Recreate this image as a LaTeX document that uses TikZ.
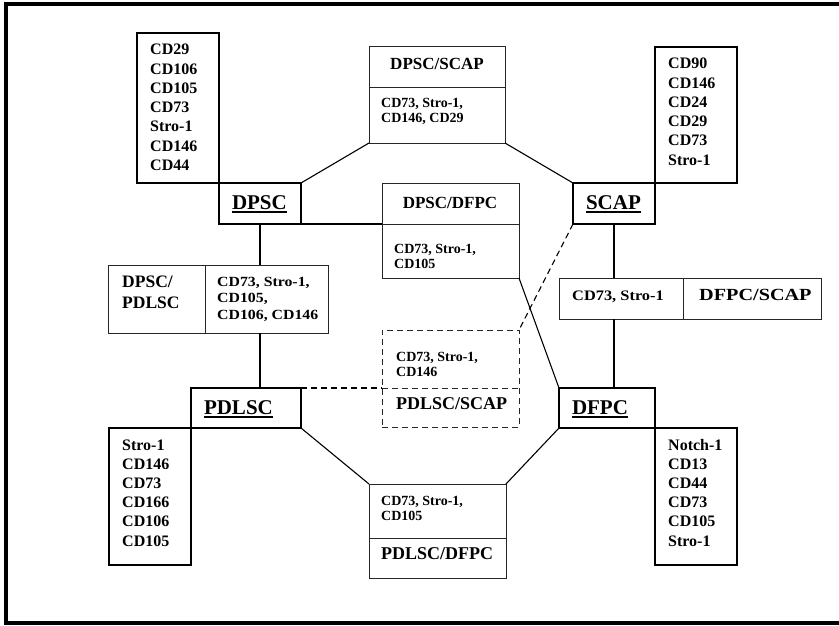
\documentclass[tikz,border=0pt]{standalone}
\usepackage{fontspec}
\setmainfont{Liberation Serif}
\begin{document}
\begin{tikzpicture}[x=1pt,y=-1pt,
  mainbox/.style={draw=black, line width=1.8pt, inner sep=0pt, outer sep=0pt, anchor=north west},
  pairbox/.style={draw=black!85, line width=1pt, inner sep=0pt, outer sep=0pt, anchor=north west},
  dashbox/.style={pairbox, dash pattern=on 6pt off 4pt},
  link/.style={line width=1.1pt},
  dlink/.style={line width=1.1pt, dash pattern=on 6pt off 4pt},
  divline/.style={line width=1pt, draw=black!85},
  lab/.style={inner sep=0pt, outer sep=0pt, anchor=base west, font=\bfseries\fontsize{21}{25}\selectfont},
  uline/.style={line width=2pt},
  lst/.style={inner sep=0pt, anchor=base west, font=\bfseries\fontsize{16}{19}\selectfont},
  ttl/.style={inner sep=0pt, anchor=base, font=\bfseries\fontsize{17}{20}\selectfont},
  ttlw/.style={inner sep=0pt, anchor=base west, font=\bfseries\fontsize{17.5}{20}\selectfont},
  itm/.style={inner sep=0pt, anchor=base west, font=\bfseries\fontsize{14}{15}\selectfont},
]
\useasboundingbox (0,0) rectangle (839,626);
% frame
\draw[line width=4pt] (839,4) -- (6,4) -- (6,623) -- (839,623);

% main nodes
\node[mainbox, minimum width=82pt, minimum height=150pt] (dpscL) at (137,33) {};
\node[mainbox, minimum width=82pt, minimum height=41pt] (dpsc) at (219,183) {};
\node[mainbox, minimum width=82pt, minimum height=136pt] (scapL) at (655,47) {};
\node[mainbox, minimum width=82pt, minimum height=41pt] (scap) at (573,183) {};
\node[mainbox, minimum width=110pt, minimum height=40pt] (pdlsc) at (191,388) {};
\node[mainbox, minimum width=82pt, minimum height=137pt] (pdlscL) at (109,428) {};
\node[mainbox, minimum width=96pt, minimum height=40pt] (dfpc) at (559,388) {};
\node[mainbox, minimum width=82pt, minimum height=137pt] (dfpcL) at (655,428) {};

% pair boxes
\node[pairbox, minimum width=136pt, minimum height=96pt] (ds) at (369,47) {};
\node[pairbox, minimum width=137pt, minimum height=95pt] (dd) at (382,183) {};
\node[pairbox, minimum width=220pt, minimum height=68pt] (dp) at (108,265) {};
\node[pairbox, minimum width=262pt, minimum height=41pt] (fs) at (559,278) {};
\node[dashbox, minimum width=137pt, minimum height=97pt] (ps) at (382,330) {};
\node[pairbox, minimum width=137pt, minimum height=94pt] (pf) at (369,484) {};

% dividers
\coordinate (dsdiv) at (0,88);
\coordinate (dddiv) at (0,224);
\coordinate (dpdiv) at (205,0);
\coordinate (fsdiv) at (683,0);
\coordinate (psdiv) at (0,388);
\coordinate (pfdiv) at (0,538);
\draw[divline] (ds.west |- dsdiv) -- (ds.east |- dsdiv);
\draw[divline] (dd.west |- dddiv) -- (dd.east |- dddiv);
\draw[divline] (dpdiv |- dp.north) -- (dpdiv |- dp.south);
\draw[divline] (fsdiv |- fs.north) -- (fsdiv |- fs.south);
\draw[divline, dash pattern=on 6pt off 4pt] (ps.west |- psdiv) -- (ps.east |- psdiv);
\draw[divline] (pf.west |- pfdiv) -- (pf.east |- pfdiv);

% connectors
\draw[link] (dpsc.north east) -- (ds.south west);
\draw[link] (dpsc.south east) -- (dd.west |- dpsc.south east);
\draw[link] (dpsc.south) -- (dpsc.south |- dp.north);
\draw[link] (dpsc.south |- dp.south) -- (dpsc.south |- pdlsc.north);
\draw[link] (ds.south east) -- (scap.north west);
\draw[dlink] (scap.south west) -- (ps.north east);
\draw[link] (scap.south) -- (scap.south |- fs.north);
\draw[link] (scap.south |- fs.south) -- (scap.south |- dfpc.north);
\draw[link] (dd.south east) -- (dfpc.north west);
\draw[dlink] (pdlsc.north east) -- (ps.west |- pdlsc.north east);
\draw[link] (pdlsc.south east) -- (pf.north west);
\draw[link] (dfpc.south west) -- (pf.north east);

% main labels
\node[lab] (tDPSC) at (232,209) {DPSC};
\node[lab] (tSCAP) at (586,209) {SCAP};
\node[lab] (tPDLSC) at (204,414) {PDLSC};
\node[lab] (tDFPC) at (572,414) {DFPC};
\foreach \n in {tDPSC,tSCAP,tPDLSC,tDFPC}
  \draw[uline] ([yshift=-3pt]\n.base west) -- ([yshift=-3pt]\n.base east);

% lists
\foreach \t [count=\i] in {CD29,CD106,CD105,CD73,Stro-1,CD146,CD44}
  \node[lst] (la\i) at (150,{55+19.2*(\i-1)}) {\t};
\foreach \t [count=\i] in {CD90,CD146,CD24,CD29,CD73,Stro-1}
  \node[lst] (lb\i) at (668,{69+19.2*(\i-1)}) {\t};
\foreach \t [count=\i] in {Stro-1,CD146,CD73,CD166,CD106,CD105}
  \node[lst] (lc\i) at (122,{450+19.2*(\i-1)}) {\t};
\foreach \t [count=\i] in {Notch-1,CD13,CD44,CD73,CD105,Stro-1}
  \node[lst] (ld\i) at (668,{450+19.2*(\i-1)}) {\t};

% DPSC/SCAP
\node[ttl] (dsT) at (437,70) {DPSC/SCAP};
\node[itm] (dsI1) at (381,108) {CD73, Stro-1,};
\node[itm] (dsI2) at (381,123) {CD146, CD29};
% DPSC/DFPC
\node[ttl] (ddT) at (450,208) {DPSC/DFPC};
\node[itm] (ddI1) at (394,253) {CD73, Stro-1,};
\node[itm] (ddI2) at (394,268) {CD105};
% DPSC/PDLSC
\node[ttlw] (dpT1) at (122,287) {DPSC/};
\node[ttlw] (dpT2) at (122,308) {PDLSC};
\node[itm] (dpI1) at (217,286) {\scalebox{1.13}[1]{CD73, Stro-1,}};
\node[itm] (dpI2) at (217,302.5) {\scalebox{1.13}[1]{CD105,}};
\node[itm] (dpI3) at (217,319) {\scalebox{1.13}[1]{CD106, CD146}};
% DFPC/SCAP
\node[itm, font=\bfseries\fontsize{14.5}{16}\selectfont] (fsI) at (572,300) {\scalebox{1.13}[1]{CD73, Stro-1}};
\node[ttlw, font=\bfseries\fontsize{17}{20}\selectfont] (fsT) at (699,300) {\scalebox{1.19}[1]{DFPC/SCAP}};
% PDLSC/SCAP
\node[itm] (psI1) at (396,361) {CD73, Stro-1,};
\node[itm] (psI2) at (396,376) {CD146};
\node[ttlw, font=\bfseries\fontsize{18}{20}\selectfont] (psT) at (396,409) {PDLSC/SCAP};
% PDLSC/DFPC
\node[itm] (pfI1) at (381,505) {CD73, Stro-1,};
\node[itm] (pfI2) at (381,520) {CD105};
\node[ttlw, font=\bfseries\fontsize{18}{20}\selectfont] (pfT) at (381,559) {PDLSC/DFPC};
\end{tikzpicture}
\end{document}
